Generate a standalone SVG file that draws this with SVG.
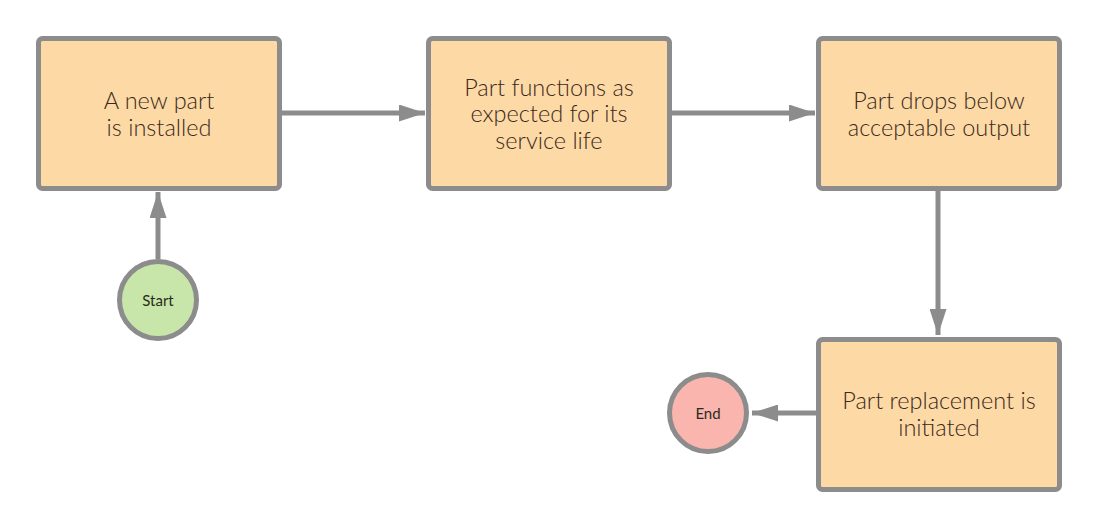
<svg xmlns="http://www.w3.org/2000/svg" width="1100" height="528" viewBox="0 0 1100 528">
<style>
.box{fill:#FDD9A6;stroke:#8C8C8C;stroke-width:5}
.lbl{font-family:Lato,"Liberation Sans",sans-serif;font-size:23.5px;font-weight:300;fill:#3B2A1A;text-anchor:middle;dominant-baseline:central}
.sm{font-family:Lato,"Liberation Sans",sans-serif;font-size:15px;fill:#2B2B1B;text-anchor:middle;dominant-baseline:central}
.con{stroke:#8C8C8C;stroke-width:5;fill:none;marker-end:url(#ah)}
</style>
<defs>
<marker id="ah" markerWidth="5.2" markerHeight="3.4" refX="5.2" refY="1.7" orient="auto" markerUnits="strokeWidth" viewBox="0 0 5.2 3.4">
<path d="M0,0 L5.2,1.7 L0,3.4 z" fill="#8C8C8C"/>
</marker>
</defs>
<rect width="1100" height="528" fill="#FFFFFF"/>
<g id="connectors">
<line class="con" x1="282" y1="113" x2="425" y2="113"/>
<line class="con" x1="671" y1="113" x2="815" y2="113"/>
<line class="con" x1="938" y1="191" x2="938" y2="335"/>
<line class="con" x1="817" y1="413" x2="752" y2="413"/>
<line class="con" x1="158" y1="259" x2="158" y2="192"/>
</g>
<g id="n1">
<rect class="box" x="38.5" y="38.5" width="241" height="150" rx="4"/>
<text class="lbl" x="159" y="100">A new part</text>
<text class="lbl" x="159" y="127">is installed</text>
</g>
<g id="n2">
<rect class="box" x="428.5" y="38.5" width="241" height="150" rx="4"/>
<text class="lbl" x="549" y="87">Part functions as</text>
<text class="lbl" x="549" y="113">expected for its</text>
<text class="lbl" x="549" y="140">service life</text>
</g>
<g id="n3">
<rect class="box" x="818.5" y="38.5" width="241" height="150" rx="4"/>
<text class="lbl" x="939" y="100">Part drops below</text>
<text class="lbl" x="939" y="127">acceptable output</text>
</g>
<g id="n4">
<rect class="box" x="818.5" y="339.5" width="241" height="150" rx="4"/>
<text class="lbl" x="939" y="400">Part replacement is</text>
<text class="lbl" x="939" y="427">initiated</text>
</g>
<g id="start">
<circle cx="158" cy="300" r="38.5" fill="#C8E6A9" stroke="#8C8C8C" stroke-width="5"/>
<text class="sm" x="158" y="300">Start</text>
</g>
<g id="end">
<circle cx="708" cy="413" r="38.5" fill="#F9B5AE" stroke="#8C8C8C" stroke-width="5"/>
<text class="sm" x="708" y="413">End</text>
</g>
</svg>
